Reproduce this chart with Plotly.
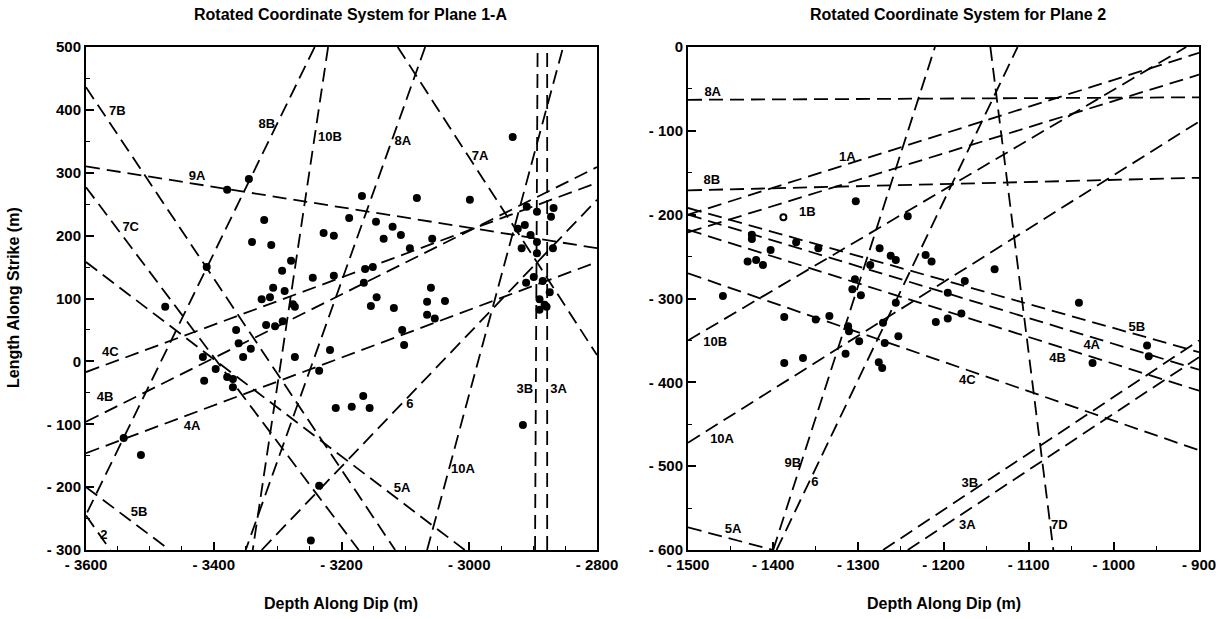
import plotly.graph_objects as go

FONT = "Liberation Sans"

# ---------------- Left panel: Plane 1-A ----------------
L_names = ["9A", "7B", "7C", "8B", "10B", "8A", "7A", "10A", "3B", "3A",
           "4C", "4B", "4A", "6", "5A", "5B", "2"]
L_x1 = [-3600, -3600, -3600, -3242, -3221, -3069, -3112, -3066, -2897, -2878,
        -3600, -3600, -3600, -3325, -3600, -3600, -3600]
L_y1 = [310, 436, 277, 500, 500, 500, 500, -300, -300, -300,
        -17, -96, -146, -300, 158, -200, -245]
L_x2 = [-2800, -3116, -3173, -3600, -3339, -3350, -2800, -2853, -2893, -2878,
        -2800, -2800, -2800, -2800, -3007, -3469, -3562]
L_y2 = [180, -300, -300, -244, -300, -300, 10, 500, 500, 500,
        284, 309, 158, 257, -300, -300, -300]

L_lab_text = ["7B", "8B", "10B", "8A", "7A", "9A", "7C", "4C", "4B", "4A",
              "5B", "2", "6", "5A", "10A", "3B", "3A"]
L_lab_x = [-3551, -3317, -3218, -3104, -2983, -3426, -3530, -3562, -3570, -3434,
           -3517, -3572, -3093, -3105, -3010, -2913, -2860]
L_lab_y = [397, 376, 355, 349, 325, 293, 212, 13, -58, -104,
           -241, -278, -69, -203, -173, -45, -45]

L_dot_x = [-3379, -3345, -3321, -3340, -3310, -3228, -3212, -3279, -3293, -3245,
           -3212, -3307, -3289, -3325, -3312, -3276, -3273, -3411, -3168, -3188,
           -3146, -3163, -3151, -3165, -3145, -3154, -3318, -3304, -3292, -3365,
           -3361, -3342, -2932, -3082, -2999, -3120, -3107, -3134, -3058, -3093,
           -2910, -2894, -2868, -2872, -2913, -2924, -2904, -2894, -2918, -2869,
           -2894, -2899, -2911, -2885, -2874, -2890, -2882, -2890, -2879, -3060,
           -3038, -3066, -3118, -3066, -3054, -3105, -3102, -3218, -3166, -3209,
           -3184, -3156, -2916, -3476, -3417, -3273, -3354, -3397, -3415, -3379,
           -3370, -3370, -3235, -3541, -3514, -3235, -3248]
L_dot_y = [273, 290, 225, 190, 185, 204, 200, 160, 144, 133,
           136, 117, 112, 99, 102, 91, 87, 150, 263, 228,
           222, 147, 150, 125, 102, 88, 58, 56, 64, 50,
           29, 20, 357, 260, 257, 214, 201, 195, 195, 180,
           246, 238, 244, 230, 217, 211, 201, 190, 180, 180,
           172, 134, 125, 128, 110, 99, 90, 82, 87, 117,
           96, 95, 85, 74, 68, 50, 26, 18, -55, -74,
           -72, -74, -101, 87, 7, 7, 7, -12, -31, -25,
           -28, -41, -15, -122, -149, -198, -285]

L_xticks = [-3600, -3400, -3200, -3000, -2800]
L_xtext = ["- 3600", "- 3400", "- 3200", "- 3000", "- 2800"]
L_yticks = [-300, -200, -100, 0, 100, 200, 300, 400, 500]
L_ytext = ["- 300", "- 200", "- 100", "0", "100", "200", "300", "400", "500"]

# ---------------- Right panel: Plane 2 ----------------
R_names = ["8A", "8B", "1A", "1B", "10B", "10A", "9B", "6", "7D", "3B",
           "3A", "5B", "4A", "4B", "4C", "5A"]
R_x1 = [-1500, -1500, -1500, -1500, -1500, -1500, -1400, -1396, -1145, -1271,
        -1242, -1500, -1500, -1500, -1500, -1500]
R_y1 = [-63, -171, -200, -221, -350, -472, -600, -600, 0, -600,
        -600, -192, -200, -218, -270, -573]
R_x2 = [-900, -900, -900, -900, -915, -900, -1210, -1113, -1071, -900,
        -900, -900, -900, -900, -900, -1400]
R_y2 = [-60, -156, -7, -33, 0, -89, 0, 0, -600, -350,
        -370, -364, -385, -410, -481, -600]

R_lab_text = ["8A", "8B", "1A", "1B", "10B", "10A", "9B", "6", "5A", "3B",
              "3A", "7D", "4C", "4B", "4A", "5B"]
R_lab_x = [-1471, -1472, -1313, -1360, -1468, -1460, -1377, -1351, -1447, -1169,
           -1172, -1064, -1172, -1066, -1026, -973]
R_lab_y = [-54, -159, -132, -198, -353, -469, -497, -520, -576, -521,
           -571, -571, -398, -372, -356, -335]

R_dot_x = [-1303, -1242, -1425, -1425, -1403, -1373, -1347, -1430, -1420, -1412,
           -1459, -1275, -1262, -1256, -1221, -1214, -1286, -1304, -1307, -1297,
           -1256, -1209, -1387, -1350, -1334, -1312, -1311, -1299, -1269, -1253,
           -1315, -1387, -1365, -1276, -1272, -1271, -1140, -1175, -1195, -1041,
           -1195, -1179, -961, -959, -1025]
R_dot_y = [-184, -202, -224, -229, -242, -233, -240, -256, -254, -260,
           -297, -240, -249, -254, -248, -256, -260, -277, -289, -296,
           -305, -328, -322, -325, -321, -333, -339, -351, -353, -345,
           -366, -377, -371, -376, -383, -329, -265, -279, -293, -305,
           -324, -318, -356, -369, -377]
R_open_x = [-1388]
R_open_y = [-203]

R_xticks = [-1500, -1400, -1300, -1200, -1100, -1000, -900]
R_xtext = ["- 1500", "- 1400", "- 1300", "- 1200", "- 1100", "- 1000", "- 900"]
R_yticks = [-600, -500, -400, -300, -200, -100, 0]
R_ytext = ["- 600", "- 500", "- 400", "- 300", "- 200", "- 100", "0"]

# ---------------- Build figure ----------------
fig = go.Figure()
DASH = "14px,7px"
LW = 1.8


def add_panel(names, x1, y1, x2, y2, lx, ly, lt, dx, dy, xa, ya):
    for i in range(len(names)):
        fig.add_trace(go.Scatter(x=[x1[i], x2[i]], y=[y1[i], y2[i]], mode="lines",
                                 line=dict(color="black", width=LW, dash=DASH),
                                 xaxis=xa, yaxis=ya, hoverinfo="skip", showlegend=False))
    fig.add_trace(go.Scatter(x=dx, y=dy, mode="markers",
                             marker=dict(color="black", size=8),
                             xaxis=xa, yaxis=ya, showlegend=False))
    fig.add_trace(go.Scatter(x=lx, y=ly, text=lt, mode="text",
                             textfont=dict(family=FONT, size=13, color="black", weight="bold"),
                             xaxis=xa, yaxis=ya, showlegend=False))


add_panel(L_names, L_x1, L_y1, L_x2, L_y2, L_lab_x, L_lab_y, L_lab_text,
          L_dot_x, L_dot_y, "x", "y")
add_panel(R_names, R_x1, R_y1, R_x2, R_y2, R_lab_x, R_lab_y, R_lab_text,
          R_dot_x, R_dot_y, "x2", "y2")
fig.add_trace(go.Scatter(x=R_open_x, y=R_open_y, mode="markers",
                         marker=dict(color="white", size=6, line=dict(color="black", width=2)),
                         xaxis="x2", yaxis="y2", showlegend=False))

W, H = 1216, 619
tickfont = dict(family=FONT, size=15, color="black", weight="bold")


def axis_common(domain, rng, tv, tt, minor_step, anchor):
    start, end = rng
    minor_vals = []
    v = start
    while v <= end:
        minor_vals.append(v)
        v += minor_step
    return dict(domain=domain, range=rng, tickmode="array", tickvals=tv, ticktext=tt,
                ticks="inside", ticklen=8, tickwidth=1.5, tickcolor="black",
                showline=True, linecolor="black", linewidth=2, mirror=True,
                showgrid=False, zeroline=False, tickfont=tickfont, anchor=anchor,
                automargin=False, ticklabeloverflow="allow",
                minor=dict(tickmode="array", tickvals=minor_vals, ticks="inside",
                           ticklen=4, tickwidth=1.2, tickcolor="black", showgrid=False))


top_px, bot_px = 47, 550
ydom = [1 - bot_px / H, 1 - top_px / H]

fig.update_layout(
    width=W, height=H, margin=dict(l=0, r=0, t=0, b=0, autoexpand=False),
    paper_bgcolor="white", plot_bgcolor="white",
    xaxis=axis_common([86 / W, 597 / W], [-3600, -2800], L_xticks, L_xtext, 50, "y"),
    yaxis=axis_common(ydom, [-300, 500], L_yticks, L_ytext, 50, "x"),
    xaxis2=axis_common([688 / W, 1199 / W], [-1500, -900], R_xticks, R_xtext, 50, "y2"),
    yaxis2=axis_common(ydom, [-600, 0], R_yticks, R_ytext, 50, "x2"),
    showlegend=False,
)

ann_font = dict(family=FONT, size=16, color="black", weight="bold")


def ann(text, xp, yp, angle=0):
    fig.add_annotation(text=text, x=xp / W, y=1 - yp / H, xref="paper", yref="paper",
                       xanchor="center", yanchor="middle", textangle=angle,
                       showarrow=False, font=ann_font)


ann("Rotated Coordinate System for Plane 1-A", 350, 15)
ann("Rotated Coordinate System for Plane 2", 958, 15)
ann("Depth Along Dip (m)", 341, 603)
ann("Depth Along Dip (m)", 944, 603)
ann("Length Along Strike (m)", 14, 298, -90)

fig.write_html("out.html", config={"displayModeBar": False},
               post_script="document.body.style.margin='0';")
